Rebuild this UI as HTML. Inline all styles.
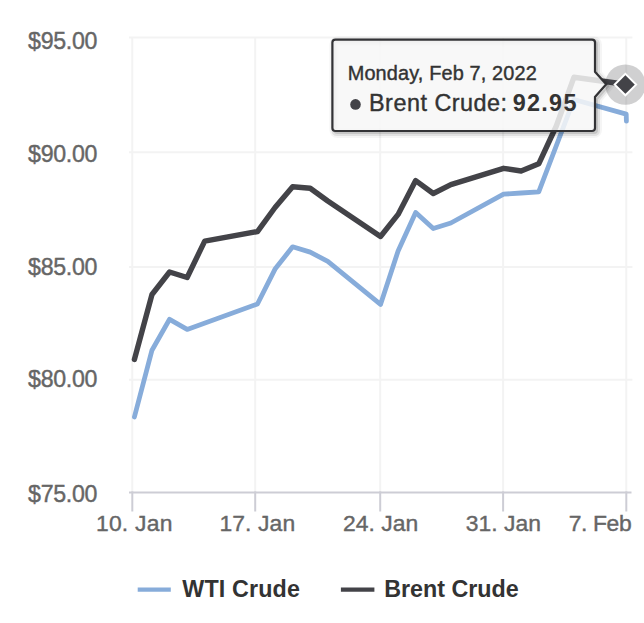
<!DOCTYPE html>
<html>
<head>
<meta charset="utf-8">
<style>
html,body{margin:0;padding:0;background:#fff;width:644px;height:623px;overflow:hidden;}
svg{display:block;}
text{font-family:"Liberation Sans",sans-serif;}
</style>
</head>
<body>
<svg width="644" height="623" viewBox="0 0 644 623">
<rect x="0" y="0" width="644" height="623" fill="#fff"/>
<g stroke="#f3f3f3" stroke-width="2" fill="none">
<path d="M 129.0 37.40 H 632.4"/>
<path d="M 129.0 152.30 H 632.4"/>
<path d="M 129.0 266.90 H 632.4"/>
<path d="M 129.0 379.70 H 632.4"/>
<path d="M 132.30 37.0 V 492.0"/>
<path d="M 255.20 37.0 V 492.0"/>
<path d="M 380.20 37.0 V 492.0"/>
<path d="M 503.10 37.0 V 492.0"/>
<path d="M 626.30 37.0 V 492.0"/>
</g>
<g stroke="#cdcdd5" stroke-width="2" fill="none">
<path d="M 129 492.4 H 631.5"/>
<path d="M 132.30 491.4 V 511.5"/>
<path d="M 255.20 491.4 V 511.5"/>
<path d="M 380.20 491.4 V 511.5"/>
<path d="M 503.10 491.4 V 511.5"/>
<path d="M 626.30 491.4 V 511.5"/>
</g>
<g fill="none" stroke-width="4.8" stroke-linecap="round" stroke-linejoin="round">
<path stroke="#87acda" d="M 134.40 417.00 L 151.98 350.20 L 169.56 319.30 L 187.14 329.40 L 257.46 304.00 L 275.04 269.10 L 292.62 246.80 L 310.20 252.10 L 327.78 261.40 L 380.52 304.40 L 398.10 251.00 L 415.68 212.50 L 433.26 228.50 L 450.84 223.00 L 503.58 194.20 L 521.16 193.00 L 538.74 191.80 L 573.90 99.50 L 626.2 114.1 L 626.4 121.1"/>
<path stroke="#434348" stroke-width="5.4" d="M 134.40 359.50 L 151.98 294.50 L 169.56 272.00 L 187.14 277.50 L 204.72 241.10 L 257.46 231.60 L 275.04 207.50 L 292.62 186.80 L 310.20 188.20 L 327.78 201.00 L 380.52 236.50 L 398.10 214.40 L 415.68 180.60 L 433.26 193.50 L 450.84 184.70 L 503.58 168.30 L 521.16 171.00 L 538.74 163.80 L 556.32 126.00 L 573.90 77.30 L 625.1 84.3"/>
</g>
<circle cx="625.4" cy="84.6" r="20.2" fill="#434348" fill-opacity="0.25"/>
<path d="M 625.4 73.89999999999999 L 636.1 84.6 L 625.4 95.3 L 614.6999999999999 84.6 Z" fill="#434348" stroke="#fff" stroke-width="2.0"/>
<g stroke-width="4.2" fill="none">
<path stroke="#87acda" d="M 137.7 589.6 H 170.8"/>
<path stroke="#434348" d="M 340.9 589.6 H 374.4"/>
</g>
<path d="M 335.40 39.60 L 592.00 39.60 Q 595.00 39.60 595.00 42.60 L 595.00 71.80 L 606.20 84.20 L 595.00 97.00 L 595.00 128.00 Q 595.00 131.00 592.00 131.00 L 335.40 131.00 Q 332.40 131.00 332.40 128.00 L 332.40 42.60 Q 332.40 39.60 335.40 39.60 Z" fill="none" stroke="#000" stroke-opacity="0.040" stroke-width="10.0" transform="translate(2.0,2.0)"/>
<path d="M 335.40 39.60 L 592.00 39.60 Q 595.00 39.60 595.00 42.60 L 595.00 71.80 L 606.20 84.20 L 595.00 97.00 L 595.00 128.00 Q 595.00 131.00 592.00 131.00 L 335.40 131.00 Q 332.40 131.00 332.40 128.00 L 332.40 42.60 Q 332.40 39.60 335.40 39.60 Z" fill="none" stroke="#000" stroke-opacity="0.080" stroke-width="6.0" transform="translate(2.0,2.0)"/>
<path d="M 335.40 39.60 L 592.00 39.60 Q 595.00 39.60 595.00 42.60 L 595.00 71.80 L 606.20 84.20 L 595.00 97.00 L 595.00 128.00 Q 595.00 131.00 592.00 131.00 L 335.40 131.00 Q 332.40 131.00 332.40 128.00 L 332.40 42.60 Q 332.40 39.60 335.40 39.60 Z" fill="none" stroke="#000" stroke-opacity="0.120" stroke-width="2.0" transform="translate(2.0,2.0)"/>
<path d="M 335.40 39.60 L 592.00 39.60 Q 595.00 39.60 595.00 42.60 L 595.00 71.80 L 606.20 84.20 L 595.00 97.00 L 595.00 128.00 Q 595.00 131.00 592.00 131.00 L 335.40 131.00 Q 332.40 131.00 332.40 128.00 L 332.40 42.60 Q 332.40 39.60 335.40 39.60 Z" fill="#f7f7f7" fill-opacity="0.85" stroke="#333336" stroke-width="2.2"/>
<circle cx="355.5" cy="104.4" r="5.3" fill="#434348"/>
<text x="28.1" y="48.9" font-size="23.2" fill="#666666" textLength="69.4" lengthAdjust="spacing" stroke="#666666" stroke-width="0.4">$95.00</text>
<text x="28.1" y="161.6" font-size="23.2" fill="#666666" textLength="69.4" lengthAdjust="spacing" stroke="#666666" stroke-width="0.4">$90.00</text>
<text x="28.1" y="274.6" font-size="23.2" fill="#666666" textLength="69.4" lengthAdjust="spacing" stroke="#666666" stroke-width="0.4">$85.00</text>
<text x="28.1" y="387.0" font-size="23.2" fill="#666666" textLength="69.4" lengthAdjust="spacing" stroke="#666666" stroke-width="0.4">$80.00</text>
<text x="28.1" y="501.9" font-size="23.2" fill="#666666" textLength="69.4" lengthAdjust="spacing" stroke="#666666" stroke-width="0.4">$75.00</text>
<text x="95.97" y="531.1" font-size="22.9" fill="#666666" textLength="76.4" lengthAdjust="spacing" stroke="#666666" stroke-width="0.4">10. Jan</text>
<text x="219.47" y="531.1" font-size="22.9" fill="#666666" textLength="75.66" lengthAdjust="spacing" stroke="#666666" stroke-width="0.4">17. Jan</text>
<text x="343.07" y="531.1" font-size="22.9" fill="#666666" textLength="75.06" lengthAdjust="spacing" stroke="#666666" stroke-width="0.4">24. Jan</text>
<text x="465.77" y="531.1" font-size="22.9" fill="#666666" textLength="75.16" lengthAdjust="spacing" stroke="#666666" stroke-width="0.4">31. Jan</text>
<text x="568.8" y="531.1" font-size="22.9" fill="#666666" textLength="62.85" lengthAdjust="spacing" stroke="#666666" stroke-width="0.4">7. Feb</text>
<text x="182.3" y="597.3" font-size="23.3" fill="#333333" font-weight="bold" textLength="117.6" lengthAdjust="spacing">WTI Crude</text>
<text x="384.2" y="597.0" font-size="23.3" fill="#333333" font-weight="bold" textLength="134.4" lengthAdjust="spacing">Brent Crude</text>
<text x="347.7" y="80.2" font-size="19.9" fill="#333333" textLength="189.0" lengthAdjust="spacing" stroke="#333333" stroke-width="0.4">Monday, Feb 7, 2022</text>
<text x="369.0" y="110.9" font-size="23.4" fill="#333333" textLength="138.1" lengthAdjust="spacing" stroke="#333333" stroke-width="0.4">Brent Crude:</text>
<text x="512.8" y="110.9" font-size="23.4" fill="#333333" font-weight="bold" textLength="63.6" lengthAdjust="spacing">92.95</text>
</svg>
</body>
</html>
